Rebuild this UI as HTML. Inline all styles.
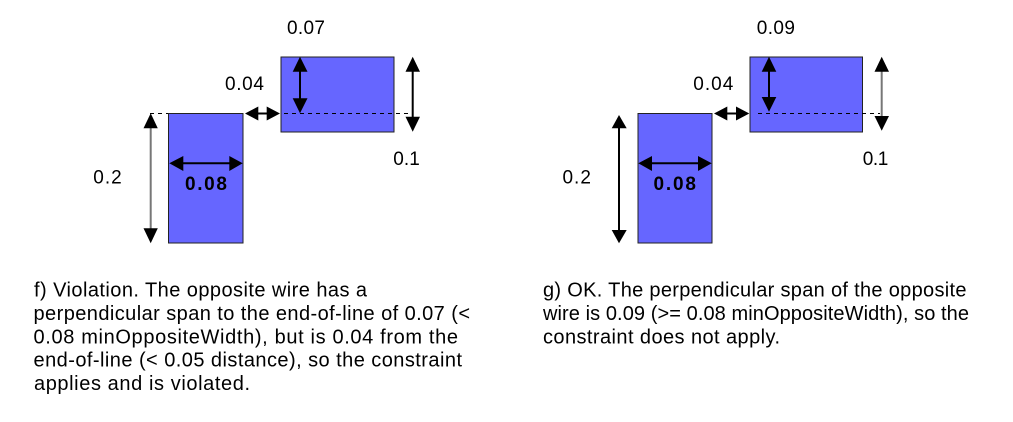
<!DOCTYPE html>
<html>
<head>
<meta charset="utf-8">
<style>
html,body{margin:0;padding:0;background:#fff;}
svg{display:block;}
text{font-family:"Liberation Sans",Arial,sans-serif;fill:#000;}
</style>
</head>
<body>
<svg width="1013" height="422" viewBox="0 0 1013 422" xmlns="http://www.w3.org/2000/svg">
<!-- Panel f -->
<rect x="168.5" y="113.5" width="74.5" height="129.5" fill="#6666ff" stroke="#222" stroke-width="1"/>
<rect x="281" y="57" width="113" height="75" fill="#6666ff" stroke="#222" stroke-width="1"/>
<line x1="150" y1="113.5" x2="168" y2="113.5" stroke="#000" stroke-width="1" stroke-dasharray="4,4"/>
<line x1="284" y1="113.5" x2="412" y2="113.5" stroke="#000" stroke-width="1" stroke-dasharray="4,4"/>
<!-- left vertical arrow -->
<line x1="150.7" y1="126" x2="150.7" y2="230" stroke="#777" stroke-width="2"/>
<polygon points="150.7,113.3 143.5,128.3 157.8,128.3" fill="#000"/>
<polygon points="150.7,243.3 143.5,228.3 157.8,228.3" fill="#000"/>
<!-- 0.08 arrow -->
<line x1="180" y1="163.3" x2="232" y2="163.3" stroke="#000" stroke-width="2"/>
<polygon points="169.3,163.3 183.3,156 183.3,171" fill="#000"/>
<polygon points="242.7,163.3 229.3,156 229.3,171" fill="#000"/>
<!-- 0.04 arrow -->
<line x1="255" y1="113.5" x2="270" y2="113.5" stroke="#000" stroke-width="2"/>
<polygon points="245,113.5 258.3,106.5 258.3,120.5" fill="#000"/>
<polygon points="280,113.5 266.7,106.5 266.7,120.5" fill="#000"/>
<!-- inner vertical arrow -->
<line x1="300" y1="68" x2="300" y2="101" stroke="#000" stroke-width="2"/>
<polygon points="300,56.7 292.7,71.7 307.5,71.7" fill="#000"/>
<polygon points="300,113.3 292.7,98.3 307.5,98.3" fill="#000"/>
<!-- right vertical arrow -->
<line x1="412.7" y1="68" x2="412.7" y2="120" stroke="#000" stroke-width="2"/>
<polygon points="412.7,56.7 405.5,71.7 420,71.7" fill="#000"/>
<polygon points="412.7,131.7 405.5,116.7 420,116.7" fill="#000"/>
<!-- labels f -->
<text x="287" y="34" font-size="19" textLength="38" lengthAdjust="spacing">0.07</text>
<text x="225" y="90" font-size="19" textLength="39" lengthAdjust="spacing">0.04</text>
<text x="393.3" y="165" font-size="19" textLength="26.5" lengthAdjust="spacing">0.1</text>
<text x="93.3" y="183.3" font-size="19" textLength="28.4" lengthAdjust="spacing">0.2</text>
<text x="185" y="190" font-size="19" font-weight="bold" textLength="42" lengthAdjust="spacing">0.08</text>

<!-- Panel g -->
<rect x="638" y="113.5" width="74" height="129.5" fill="#6666ff" stroke="#222" stroke-width="1"/>
<rect x="750" y="57" width="112.5" height="75" fill="#6666ff" stroke="#222" stroke-width="1"/>
<line x1="758" y1="113.5" x2="880" y2="113.5" stroke="#000" stroke-width="1" stroke-dasharray="4,4"/>
<!-- left vertical arrow -->
<line x1="619" y1="126" x2="619" y2="232" stroke="#000" stroke-width="2"/>
<polygon points="619,115 611.7,128.3 626.7,128.3" fill="#000"/>
<polygon points="619,243.3 611.7,230 626.7,230" fill="#000"/>
<!-- 0.08 arrow -->
<line x1="650" y1="163.3" x2="700" y2="163.3" stroke="#000" stroke-width="2"/>
<polygon points="638.3,163.3 652,156 652,171" fill="#000"/>
<polygon points="711.7,163.3 698,156 698,171" fill="#000"/>
<!-- 0.04 arrow -->
<line x1="724" y1="113.5" x2="740" y2="113.5" stroke="#000" stroke-width="2"/>
<polygon points="714,113.5 727.3,106.5 727.3,120.5" fill="#000"/>
<polygon points="749.3,113.5 736,106.5 736,120.5" fill="#000"/>
<!-- inner vertical arrow -->
<line x1="769" y1="68" x2="769" y2="100" stroke="#000" stroke-width="2"/>
<polygon points="769,56.7 761.7,71.7 776.3,71.7" fill="#000"/>
<polygon points="769,111.7 761.7,97 776.3,97" fill="#000"/>
<!-- right vertical arrow -->
<line x1="881.7" y1="68" x2="881.7" y2="120" stroke="#777" stroke-width="2"/>
<polygon points="881.7,56.7 874.5,71.7 889,71.7" fill="#000"/>
<polygon points="881.7,130.7 874.5,116 889,116" fill="#000"/>
<!-- labels g -->
<text x="756.7" y="34" font-size="19" textLength="38.3" lengthAdjust="spacing">0.09</text>
<text x="693.3" y="90" font-size="19" textLength="40" lengthAdjust="spacing">0.04</text>
<text x="862.7" y="165" font-size="19" textLength="25.6" lengthAdjust="spacing">0.1</text>
<text x="562.5" y="183.3" font-size="19" textLength="28.4" lengthAdjust="spacing">0.2</text>
<text x="653.5" y="190" font-size="19" font-weight="bold" textLength="42.5" lengthAdjust="spacing">0.08</text>

<!-- Caption f -->
<g font-size="20">
<text x="34" y="296.5" textLength="333" lengthAdjust="spacing">f) Violation. The opposite wire has a</text>
<text x="33.5" y="320" textLength="436.5" lengthAdjust="spacing">perpendicular span to the end-of-line of 0.07 (&lt;</text>
<text x="33.5" y="343.3" textLength="424.5" lengthAdjust="spacing">0.08 minOppositeWidth), but is 0.04 from the</text>
<text x="33.5" y="366.7" textLength="428.5" lengthAdjust="spacing">end-of-line (&lt; 0.05 distance), so the constraint</text>
<text x="34" y="390" textLength="216" lengthAdjust="spacing">applies and is violated.</text>
</g>
<!-- Caption g -->
<g font-size="20">
<text x="543" y="296.5" textLength="423.5" lengthAdjust="spacing">g) OK. The perpendicular span of the opposite</text>
<text x="543" y="320" textLength="426" lengthAdjust="spacing">wire is 0.09 (&gt;= 0.08 minOppositeWidth), so the</text>
<text x="543" y="343.3" textLength="237" lengthAdjust="spacing">constraint does not apply.</text>
</g>
</svg>
</body>
</html>
